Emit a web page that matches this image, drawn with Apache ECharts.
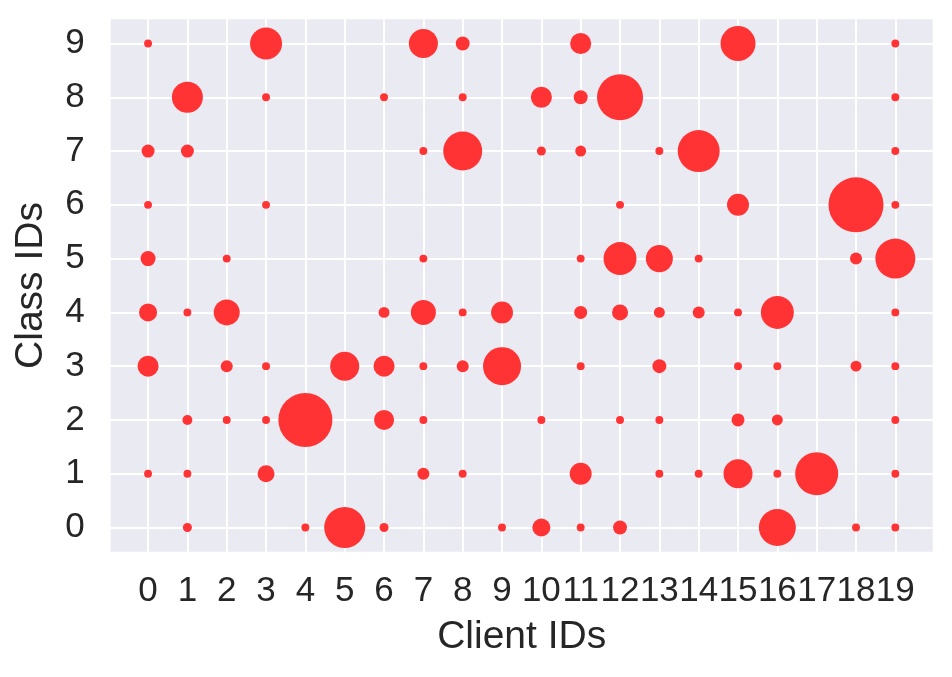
<!DOCTYPE html>
<html>
<head>
<meta charset="utf-8">
<script src="https://cdn.jsdelivr.net/npm/echarts@6/dist/echarts.min.js"></script>
<style>
  html, body { margin: 0; padding: 0; background: #fff; }
  #main { width: 952px; height: 677px; }
</style>
</head>
<body>
<div id="main"></div>
<script>
// 横轴: 客户端, 纵轴: 类别
var clientIds = [0, 1, 2, 3, 4, 5, 6, 7, 8, 9, 10, 11, 12, 13, 14, 15, 16, 17, 18, 19];
var classIds = [0, 1, 2, 3, 4, 5, 6, 7, 8, 9];

// 每个类别在各客户端上的样本数 (0 = 没有)
var class0 = [0, 13, 0, 0, 10, 269, 13, 0, 0, 10, 52, 10, 31, 0, 0, 0, 219, 0, 10, 10];
var class1 = [10, 10, 0, 46, 0, 0, 0, 23, 10, 0, 0, 77, 0, 10, 10, 135, 10, 296, 0, 10];
var class2 = [0, 16, 10, 10, 467, 0, 64, 10, 0, 0, 10, 0, 10, 10, 0, 27, 19, 0, 0, 10];
var class3 = [71, 0, 23, 10, 0, 135, 71, 10, 23, 231, 0, 10, 0, 31, 0, 10, 10, 0, 19, 10];
var class4 = [52, 10, 108, 0, 0, 0, 19, 100, 10, 77, 0, 27, 41, 19, 23, 10, 174, 0, 0, 10];
var class5 = [36, 0, 10, 0, 0, 0, 0, 10, 0, 0, 0, 10, 174, 117, 10, 0, 0, 0, 23, 256];
var class6 = [10, 0, 0, 10, 0, 0, 0, 0, 0, 0, 0, 0, 10, 0, 0, 77, 0, 0, 484, 10];
var class7 = [27, 27, 0, 0, 0, 0, 0, 10, 243, 0, 13, 19, 0, 10, 282, 0, 0, 0, 0, 10];
var class8 = [0, 154, 0, 10, 0, 0, 10, 0, 10, 0, 71, 31, 339, 0, 0, 0, 0, 0, 0, 10];
var class9 = [10, 0, 0, 164, 0, 0, 0, 135, 31, 0, 0, 71, 0, 0, 0, 196, 0, 0, 0, 10];

var samples = [class0, class1, class2, class3, class4, class5, class6, class7, class8, class9];

var points = [];
classIds.forEach(function (c) {
  clientIds.forEach(function (k) {
    var n = samples[c][k];
    if (n > 0) points.push([k, c, n]);
  });
});

var textColor = '#262626';
var fontName = '"Liberation Sans", Arial, sans-serif';

var chart = echarts.init(document.getElementById('main'));
var option = {
  animation: false,
  grid: {
    left: 110.7,
    right: 19.3,
    top: 19.3,
    bottom: 125.3,
    show: true,
    backgroundColor: '#EAEAF2',
    borderWidth: 0
  },
  xAxis: {
    type: 'value',
    min: -0.95,
    max: 19.95,
    name: 'Client IDs',
    nameLocation: 'middle',
    nameGap: 66,
    nameTextStyle: { color: textColor, fontSize: 39, fontFamily: fontName },
    axisLine: { show: false },
    axisTick: { show: false, customValues: clientIds },
    axisLabel: {
      customValues: clientIds,
      color: textColor, fontSize: 35, fontFamily: fontName, margin: 22
    },
    splitLine: { show: true, lineStyle: { color: '#ffffff', width: 2 } }
  },
  yAxis: {
    type: 'value',
    min: -0.45,
    max: 9.45,
    name: 'Class IDs',
    nameLocation: 'middle',
    nameGap: 60,
    nameTextStyle: { color: textColor, fontSize: 39, fontFamily: fontName },
    axisLine: { show: false },
    axisTick: { show: false, customValues: classIds },
    axisLabel: {
      customValues: classIds,
      color: textColor, fontSize: 35, fontFamily: fontName, margin: 26
    },
    splitLine: { show: true, lineStyle: { color: '#ffffff', width: 2 } }
  },
  series: [{
    type: 'scatter',
    data: points,
    symbolSize: function (val) {
      return Math.sqrt(val[2]) * 2.5;
    },
    itemStyle: { color: '#FF3333', opacity: 1 },
    emphasis: { disabled: true }
  }]
};
chart.setOption(option);
</script>
</body>
</html>
